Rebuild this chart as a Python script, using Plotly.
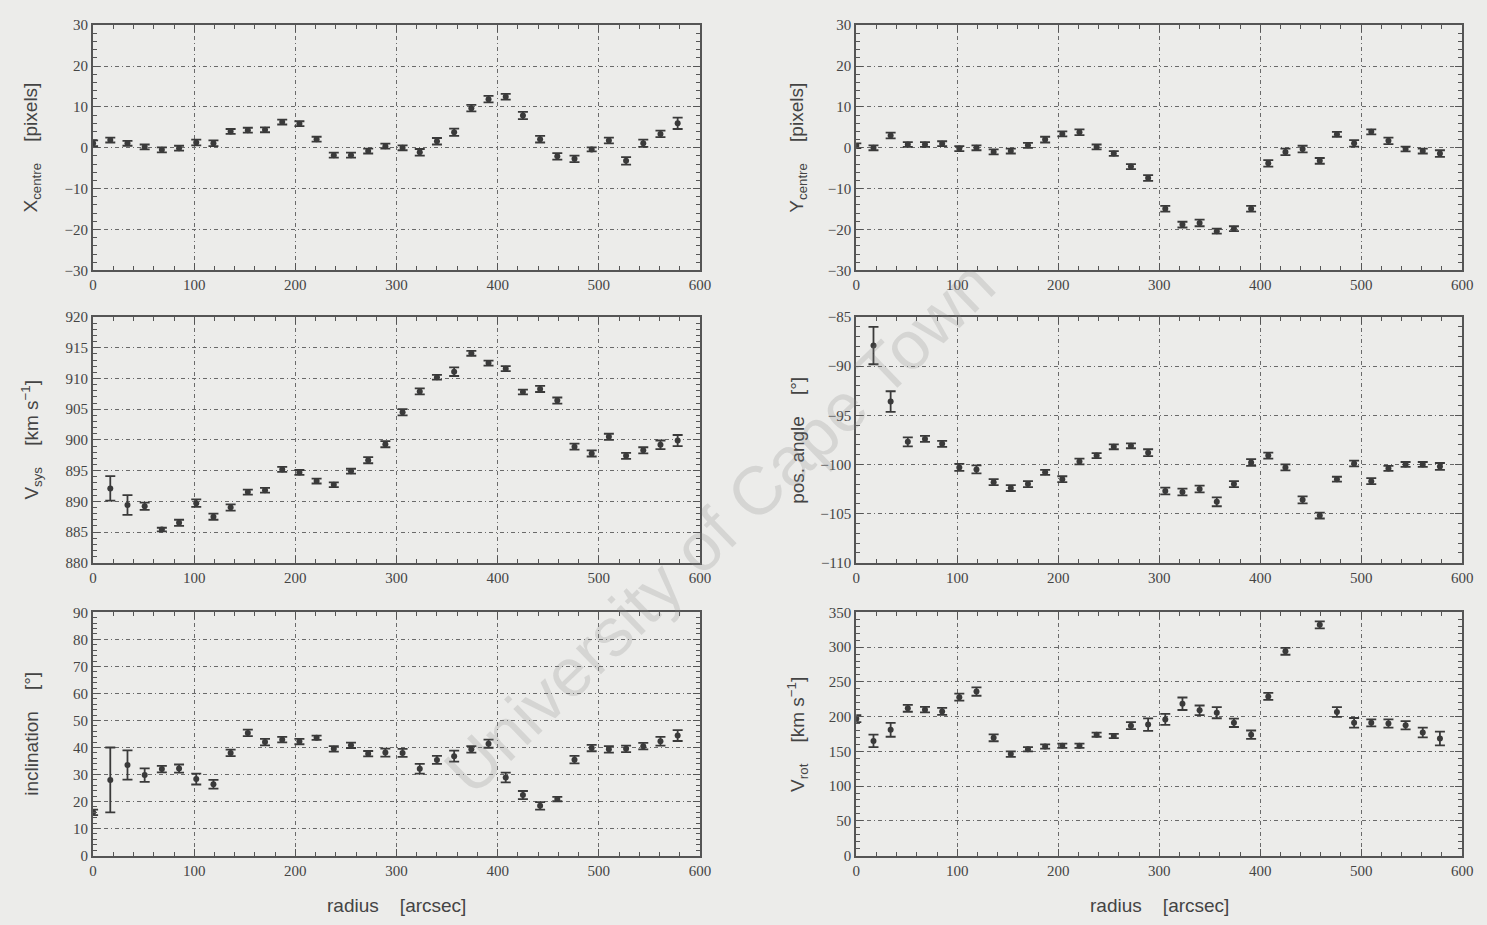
import plotly.graph_objects as go

# ---------------- data ----------------
radius = [0, 17, 34, 51, 68, 85, 102, 119, 136, 153, 170, 187, 204, 221, 238, 255, 272, 289,
          306, 323, 340, 357, 374, 391, 408, 425, 442, 459, 476, 493, 510, 527, 544, 561, 578]

x_centre = [1.1, 1.9, 1.1, 0.2, -0.5, -0.1, 1.3, 1.1, 4.0, 4.3, 4.4, 6.3, 5.9, 2.1, -1.8, -1.8, -0.8, 0.4,
            0.0, -1.1, 1.6, 3.8, 9.7, 11.9, 12.5, 7.9, 2.1, -2.1, -2.7, -0.4, 1.8, -3.2, 1.1, 3.4, 6.0]
x_centre_err = [0.7, 0.6, 0.6, 0.6, 0.6, 0.6, 0.7, 0.7, 0.6, 0.6, 0.6, 0.6, 0.6, 0.6, 0.6, 0.6, 0.6, 0.6,
                0.6, 0.8, 0.8, 0.9, 0.8, 0.8, 0.7, 0.9, 0.8, 0.8, 0.8, 0.5, 0.7, 0.9, 0.9, 0.8, 1.4]

y_centre = [0.5, 0.0, 3.0, 0.8, 0.8, 1.0, -0.2, 0.0, -1.0, -0.8, 0.6, 2.0, 3.4, 3.8, 0.2, -1.4, -4.6, -7.4,
            -14.9, -18.8, -18.4, -20.4, -19.8, -14.9, -3.8, -1.0, -0.3, -3.2, 3.3, 1.1, 3.9, 1.7, -0.3, -0.8, -1.4]
y_centre_err = [0.6, 0.6, 0.7, 0.6, 0.6, 0.6, 0.6, 0.6, 0.6, 0.6, 0.6, 0.7, 0.6, 0.7, 0.6, 0.6, 0.6, 0.7,
                0.7, 0.7, 0.8, 0.6, 0.6, 0.7, 0.8, 0.8, 0.8, 0.7, 0.6, 0.8, 0.6, 0.8, 0.6, 0.6, 0.8]

v_sys = [None, 892.1, 889.4, 889.2, 885.4, 886.5, 889.7, 887.5, 889.0, 891.5, 891.8, 895.2, 894.7, 893.3,
         892.7, 894.9, 896.7, 899.3, 904.5, 907.9, 910.2, 911.1, 914.1, 912.5, 911.6, 907.8, 908.3, 906.4,
         898.9, 897.8, 900.5, 897.4, 898.3, 899.2, 899.9]
v_sys_err = [0, 2.0, 1.6, 0.6, 0.3, 0.5, 0.6, 0.5, 0.5, 0.4, 0.4, 0.4, 0.4, 0.4,
             0.4, 0.4, 0.5, 0.5, 0.5, 0.5, 0.4, 0.7, 0.4, 0.4, 0.4, 0.4, 0.5, 0.5,
             0.5, 0.5, 0.5, 0.5, 0.5, 0.7, 0.9]

pos_angle = [None, -87.9, -93.6, -97.7, -97.4, -97.9, -100.3, -100.5, -101.8, -102.4, -102.0, -100.8, -101.5,
             -99.7, -99.1, -98.2, -98.1, -98.8, -102.7, -102.8, -102.5, -103.8, -102.0, -99.8, -99.1,
             -100.3, -103.6, -105.2, -101.5, -99.9, -101.7, -100.4, -100.0, -100.0, -100.2]
pos_angle_err = [0, 1.9, 1.05, 0.45, 0.3, 0.3, 0.35, 0.4, 0.3, 0.3, 0.3, 0.25, 0.3,
                 0.3, 0.25, 0.25, 0.25, 0.35, 0.35, 0.35, 0.35, 0.45, 0.3, 0.35, 0.3,
                 0.3, 0.35, 0.3, 0.25, 0.3, 0.3, 0.25, 0.25, 0.25, 0.35]

inclination = [16.0, 28.0, 33.5, 29.8, 32.0, 32.2, 28.3, 26.4, 38.0, 45.4, 42.0, 42.9, 42.2, 43.6, 39.5,
               40.8, 37.7, 38.1, 38.0, 32.1, 35.4, 36.8, 39.3, 41.4, 28.9, 22.4, 18.4, 20.9, 35.5, 39.8,
               39.3, 39.5, 40.5, 42.3, 44.4]
inclination_err = [1.0, 12.0, 5.4, 2.5, 1.2, 1.5, 2.0, 1.6, 1.2, 1.2, 1.2, 1.0, 1.0, 0.8, 1.0,
                   1.0, 1.0, 1.5, 1.5, 1.8, 1.5, 2.0, 1.2, 1.5, 1.8, 1.5, 1.4, 0.8, 1.4, 1.2,
                   1.2, 1.2, 1.2, 1.6, 2.0]

v_rot = [197, 165, 181, 212, 210, 207.5, 228, 236, 169.5, 146, 153, 157, 158, 158, 174, 172, 187, 188.5,
         196, 218.5, 209, 205.6, 191, 174, 229, 294, None, 332, 206.5, 191, 191, 190, 187.5, 177, 168.5]
v_rot_err = [5, 9, 10, 5, 4, 5, 5, 6, 5, 4, 3, 3, 3, 3, 3, 3, 5, 9,
             8, 9, 7, 8, 6, 6, 5, 5, 0, 5, 7, 7, 5, 6, 6, 7, 10]

x_ticks = [0, 100, 200, 300, 400, 500, 600]

# ---------------- styling ----------------
BG = "#ececea"
INK = "#3a3a3a"
GRID = "#6a6a6a"
TICKFONT = dict(family="Liberation Serif", size=15, color="#444444")
TITLEFONT = dict(family="Liberation Sans", size=19, color="#444444")

W, H = 1487, 925
left_dom = [90 / W, 703 / W]
right_dom = [861 / W, 1473 / W]
rows_dom = [
    [1 - 267 / H, 1 - 17.5 / H],
    [1 - 564.5 / H, 1 - 314.5 / H],
    [1 - 862.5 / H, 1 - 615 / H],
]

panels = [
    # (values, errors, col, row, yrange, ydtick, yminor, title)
    (x_centre, x_centre_err, 0, 0, [-30, 30], 10, 2, "X<sub>centre</sub>    [pixels]"),
    (y_centre, y_centre_err, 1, 0, [-30, 30], 10, 2, "Y<sub>centre</sub>    [pixels]"),
    (v_sys, v_sys_err, 0, 1, [880, 920], 5, 1, "V<sub>sys</sub>    [km s<sup>−1</sup>]"),
    (pos_angle, pos_angle_err, 1, 1, [-110, -85], 5, 1, "pos. angle    [°]"),
    (inclination, inclination_err, 0, 2, [0, 90], 10, 2, "inclination    [°]"),
    (v_rot, v_rot_err, 1, 2, [0, 350], 50, 10, "V<sub>rot</sub>    [km s<sup>−1</sup>]"),
]

fig = go.Figure()
annotations = []
layout_axes = {}

for i, (vals, errs, col, row, yr, ydt, ymin, title) in enumerate(panels):
    n = i + 1
    xa = "x" if n == 1 else f"x{n}"
    ya = "y" if n == 1 else f"y{n}"
    xs = [r for r, v in zip(radius, vals) if v is not None]
    ys = [v for v in vals if v is not None]
    es = [e for e, v in zip(errs, vals) if v is not None]
    fig.add_trace(go.Scatter(
        x=xs, y=ys, mode="markers", xaxis=xa, yaxis=ya,
        marker=dict(color=INK, size=6, symbol="circle"),
        error_y=dict(type="data", array=es, visible=True, color=INK, thickness=1.8, width=5),
        showlegend=False, cliponaxis=True,
    ))
    xdom = left_dom if col == 0 else right_dom
    ydom = rows_dom[row]
    axis_common = dict(
        showline=True, linecolor="#555555", linewidth=2, mirror="ticks",
        ticks="inside", ticklen=7, tickwidth=1.2, tickcolor="#555555",
        showgrid=True, gridcolor=GRID, gridwidth=1, griddash="4px,3px,1px,3px",
        zeroline=False, tickfont=TICKFONT,
    )
    layout_axes["xaxis" if n == 1 else f"xaxis{n}"] = dict(
        axis_common, domain=xdom, anchor=ya, range=[0, 600],
        tickmode="array", tickvals=x_ticks, ticktext=[str(t) for t in x_ticks],
        minor=dict(dtick=20, tick0=0, ticks="inside", ticklen=4, tickcolor="#555555", showgrid=False),
    )
    layout_axes["yaxis" if n == 1 else f"yaxis{n}"] = dict(
        axis_common, domain=ydom, anchor=xa, range=yr,
        tick0=yr[0], dtick=ydt,
        minor=dict(dtick=ymin, tick0=yr[0], ticks="inside", ticklen=4, tickcolor="#555555", showgrid=False),
    )
    # y title
    tx = 28 / W if col == 0 else 802 / W
    annotations.append(dict(
        text=title, xref="paper", yref="paper", x=tx, y=(ydom[0] + ydom[1]) / 2,
        textangle=-90, showarrow=False, font=TITLEFONT, xanchor="center", yanchor="middle",
    ))

# x titles (bottom row)
for dom in (left_dom, right_dom):
    annotations.append(dict(
        text="radius    [arcsec]", xref="paper", yref="paper",
        x=(dom[0] + dom[1]) / 2, y=1 - 913 / H, showarrow=False,
        font=TITLEFONT, xanchor="center", yanchor="middle",
    ))

# watermark
annotations.append(dict(
    text="University of Cape Town", xref="paper", yref="paper",
    x=722 / W, y=1 - 528 / H, textangle=-44, showarrow=False,
    font=dict(family="Liberation Sans", size=68, color="rgba(130,130,130,0.22)"),
    xanchor="center", yanchor="middle",
))

fig.update_layout(
    width=W, height=H,
    margin=dict(l=0, r=0, t=0, b=0),
    paper_bgcolor=BG, plot_bgcolor=BG,
    annotations=annotations,
    **layout_axes,
)

fig.write_html("out.html")
